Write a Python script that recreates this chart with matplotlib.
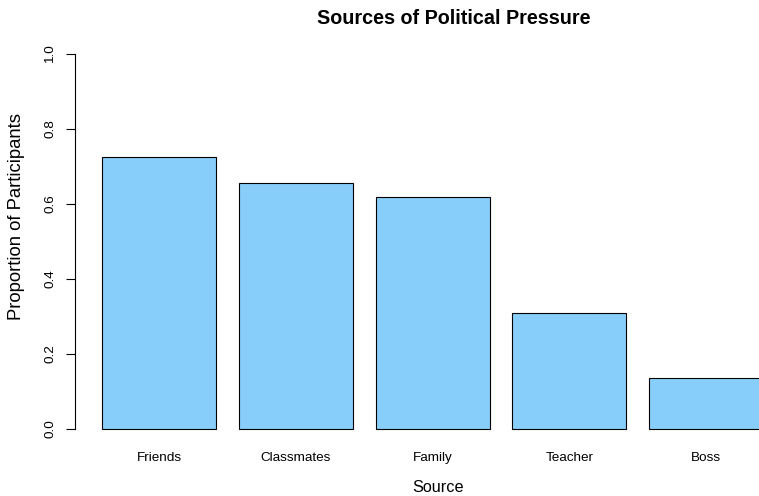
import matplotlib
matplotlib.use("Agg")
import matplotlib.pyplot as plt
import numpy as np

categories = ["Friends", "Classmates", "Family", "Teacher", "Boss"]
proportions = [0.725, 0.655, 0.620, 0.310, 0.137]
yticks = [0.0, 0.2, 0.4, 0.6, 0.8, 1.0]

plt.rcParams['font.family'] = ['Liberation Sans', 'DejaVu Sans']

W, H = 759, 496
fig = plt.figure(figsize=(W / 100, H / 100), dpi=100)
# plot region (R style) extends beyond the right edge of the figure
left, right, top, bottom = 75, 813, 39, 444
ax = fig.add_axes([left / W, 1 - bottom / H, (right - left) / W, (bottom - top) / H])

x_left = 0.2 + 1.2 * np.arange(len(categories))
centers = x_left + 0.5
ax.bar(centers, proportions, width=1.0, color="#87CEFA", edgecolor="black", linewidth=0.8)

ax.set_xlim(-0.04, 6.44)
ax.set_ylim(-0.04, 1.04)
for s in ["top", "right", "bottom"]:
    ax.spines[s].set_visible(False)
ax.spines["left"].set_bounds(0, 1)
ax.spines["left"].set_linewidth(0.8)

ax.set_yticks(yticks)
ax.set_yticklabels([f"{v:.1f}" for v in yticks], rotation=90, va="center", fontsize=9.7)
ax.tick_params(axis="y", length=6.5, width=0.8, pad=7)
ax.set_xticks(centers)
ax.set_xticklabels(categories, fontsize=9.7)
ax.tick_params(axis="x", length=0, pad=6)

fig.text(454 / W, 1 - 19 / H, "Sources of Political Pressure", ha="center", va="center",
         fontsize=14.2, fontweight="bold")
fig.text(438 / W, 1 - 487 / H, "Source", ha="center", va="center", fontsize=11.7)
fig.text(17 / W, 1 - 216 / H, "Proportion of Participants", ha="center", va="center",
         rotation=90, fontsize=13.3)

fig.savefig("out.png", dpi=100)
